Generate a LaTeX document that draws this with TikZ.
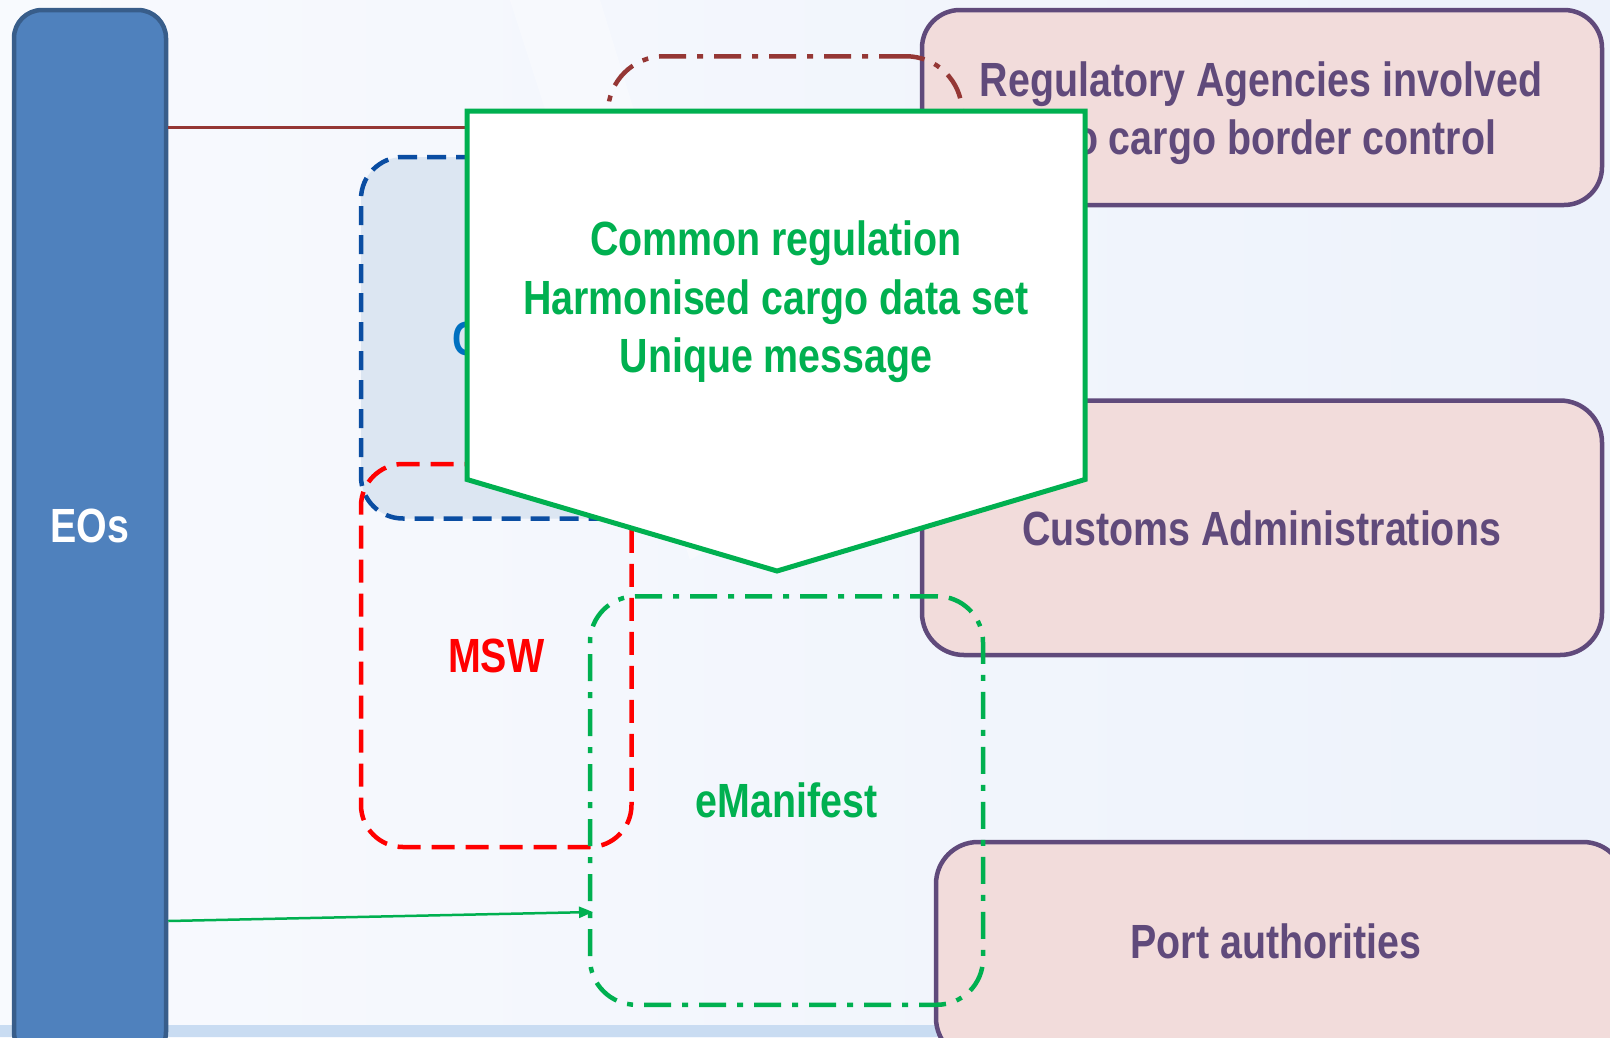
\documentclass[tikz,border=0pt]{standalone}
\usepackage{fontspec}
\newfontfamily\nar{Liberation Sans}[FakeStretch=0.82]
\usetikzlibrary{arrows.meta}
\definecolor{bgA}{HTML}{F8FAFE}
\definecolor{bgB}{HTML}{EDF2FB}
\definecolor{bandc}{HTML}{C9DCF2}
\definecolor{eosfill}{HTML}{4F81BD}
\definecolor{eosedge}{HTML}{385D8A}
\definecolor{pinkf}{HTML}{F2DCDB}
\definecolor{purp}{HTML}{604A7B}
\definecolor{grn}{HTML}{00B050}
\definecolor{rd}{HTML}{FF0000}
\definecolor{brn}{HTML}{953735}
\definecolor{dblue}{HTML}{0A4DA2}
\definecolor{lblue}{HTML}{DCE6F2}
\definecolor{ctxt}{HTML}{0070C0}
\begin{document}
\begin{tikzpicture}[x=1pt,y=-1pt,
  txt/.style={font=\nar\bfseries\fontsize{48}{58.5}\selectfont, align=center, inner sep=0pt},
  pinkbox/.style={draw=purp, fill=pinkf, line width=4.5pt, rounded corners=38pt, inner sep=0pt, text=purp},
  dashbox/.style={line width=4.5pt, rounded corners=46pt, inner sep=0pt},
  dashdot/.style={dash pattern=on 27pt off 11pt on 6pt off 11pt},
  longdash/.style={dash pattern=on 23pt off 11pt},
  shortdash/.style={dash pattern=on 19pt off 10pt},
]
\useasboundingbox (0,0) rectangle (1610,1037);
\clip (0,0) rectangle (1610,1037);
% background
\shade[left color=bgA, right color=bgB] (0,0) rectangle (1610,1037);
\fill[white, opacity=0.35] (510,0) -- (600,0) -- (760,520) -- (690,560) -- cycle;
\fill[bandc] (0,1025) rectangle (1610,1037);

% EOs bar and brown line (drawn under the callout)
\node[draw=eosedge, fill=eosfill, line width=4.5pt, rounded corners=28pt,
      minimum width=152pt, minimum height=1050pt, inner sep=0pt] (eos) at (90,535) {};
\node[txt, text=white] (eostxt) at (90,526) {EOs};
\coordinate (brnEnd) at (470,127);
\draw[brn, line width=3pt] (eos.east |- brnEnd) -- (brnEnd);

% pink boxes
\node[pinkbox, minimum width=680pt, minimum height=195pt] (reg) at (1262,107.5) {};
\node[txt, text=purp] (regtxt) at (1261,113) {Regulatory Agencies involved\\into cargo border control};
\node[pinkbox, minimum width=680pt, minimum height=254.5pt, rounded corners=42pt] (cus) at (1262,527.75) {};
\node[txt, text=purp] (custxt) at (1261.5,528) {Customs Administrations};
\node[pinkbox, minimum width=689pt, minimum height=218pt, rounded corners=42pt] (port) at (1280.5,951) {};
\node[txt, text=purp] (porttxt) at (1276,941.5) {Port authorities};

% blue dashed box
\node[dashbox, draw=dblue, fill=lblue, shortdash, rounded corners=42pt,
      minimum width=359pt, minimum height=361.5pt] (blu) at (540.5,337.75) {};
\node[txt, text=ctxt, anchor=west] (blutxt) at (452,339) {C};

% red dashed box
\node[dashbox, draw=rd, longdash, rounded corners=42pt,
      minimum width=270.5pt, minimum height=383pt, txt, text=rd] (msw) at (496.25,655.5) {MSW};

% green dash-dot box
\node[dashbox, draw=grn, dashdot,
      minimum width=393pt, minimum height=408.5pt, txt, text=grn] (emf) at (786.5,800.5) {eManifest};

% brown dash-dot box (mostly hidden by the callout)
\node[dashbox, draw=brn, dashdot, rounded corners=56pt,
      minimum width=354pt, minimum height=363.5pt] (brbox) at (785,238) {};

% green arrow EOs -> eManifest
\coordinate (arS) at (166,921);
\coordinate (arE) at (593,912);
\draw[grn, line width=2.5pt, -{Triangle[length=14pt,width=11pt]}] (eos.east |- arS) -- (arE);

% callout
\coordinate (c1) at (467,111);
\coordinate (c2) at (1085,111);
\coordinate (c3) at (1085,479.5);
\coordinate (c4) at (777,571);
\coordinate (c5) at (467,479.5);
\draw[grn, fill=white, line width=5pt] (c1) -- (c2) -- (c3) -- (c4) -- (c5) -- cycle;
\node[txt, text=grn] (caltxt) at (776,302) {Common regulation\\Harmonised cargo data set\\Unique message};
\end{tikzpicture}
\end{document}
